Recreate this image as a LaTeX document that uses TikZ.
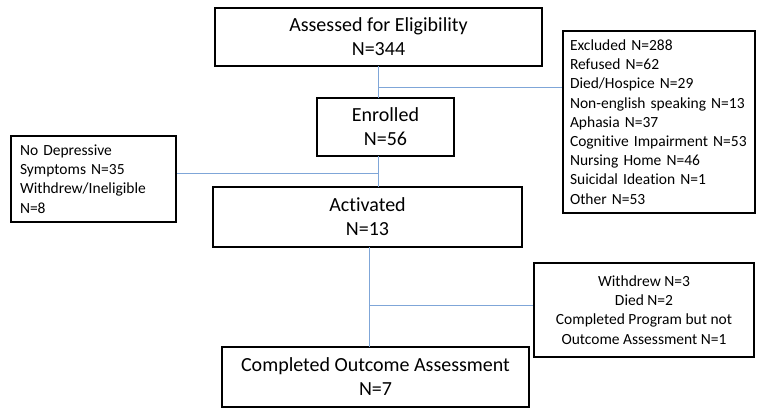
\documentclass[tikz,border=0pt]{standalone}
\usepackage{fontspec}
\setmainfont{Carlito}[Ligatures=NoCommon]
\definecolor{linkblue}{HTML}{7FA6D8}
\tikzset{
  bigbox/.style={draw=black, line width=2.5pt, align=center, inner sep=0pt,
    font=\fontsize{20}{24}\selectfont},
  smallbox/.style={draw=black, line width=2.5pt, inner sep=0pt,
    font=\fontsize{15.5}{19.2}\selectfont},
  link/.style={draw=linkblue, line width=1pt}
}
\begin{document}
\begin{tikzpicture}[x=1pt,y=-1pt]
\useasboundingbox (0,0) rectangle (757,408);
\node[bigbox, minimum width=327, minimum height=58] (assess) at (378.5,37) {Assessed for Eligibility\\N=344};
\node[bigbox, minimum width=137, minimum height=58] (enrol) at (385.5,127) {Enrolled\\N=56};
\node[bigbox, minimum width=309, minimum height=60] (activ) at (367.5,217) {Activated\\N=13};
\node[bigbox, minimum width=307, minimum height=60] (compl) at (375.5,377) {Completed Outcome Assessment\\N=7};
\node[smallbox, minimum width=192, minimum height=182, text width=178, align=left] (excl) at (659,122)
 {Excluded N=288\\Refused N=62\\Died/Hospice N=29\\Non-english speaking N=13\\Aphasia N=37\\Cognitive Impairment N=53\\Nursing Home N=46\\Suicidal Ideation N=1\\Other N=53};
\node[smallbox, minimum width=165, minimum height=86, text width=147, align=left] (nodep) at (93.5,179)
 {No Depressive\\Symptoms N=35\\Withdrew/Ineligible\\N=8};
\node[smallbox, minimum width=220, minimum height=94, align=center] (withd) at (644,310)
 {Withdrew N=3\\Died N=2\\Completed Program but not\\Outcome Assessment N=1};
% connectors
\coordinate (a1) at (378,66);
\coordinate (a2) at (378,98);
\coordinate (ja) at (378,87);
\draw[link] (a1) -- (a2);
\draw[link] (ja) -- (ja -| excl.west);
\coordinate (e1) at (378,156);
\coordinate (e2) at (378,187);
\coordinate (je) at (378,173);
\draw[link] (e1) -- (e2);
\draw[link] (je) -- (je -| nodep.east);
\coordinate (c1) at (369,247);
\coordinate (c2) at (369,347);
\coordinate (jc) at (369,305);
\draw[link] (c1) -- (c2);
\draw[link] (jc) -- (jc -| withd.west);
\end{tikzpicture}
\end{document}
